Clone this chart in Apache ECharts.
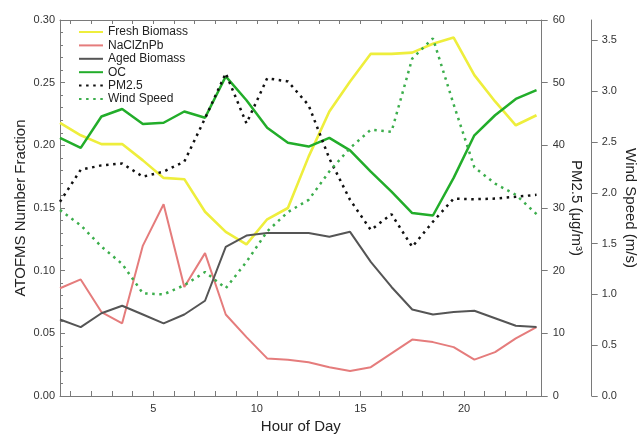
<!DOCTYPE html>
<html>
<head>
<meta charset="utf-8">
<script src="https://cdn.jsdelivr.net/npm/echarts@6/dist/echarts.min.js"></script>
<style>
  html, body { margin: 0; padding: 0; background: #fff; }
  #chart { width: 638px; height: 435px; }
</style>
</head>
<body>
<div id="chart"></div>
<script>
// Diurnal profile: hour of day (hourly bin centres)
const hours = [0.5, 1.5, 2.5, 3.5, 4.5, 5.5, 6.5, 7.5, 8.5, 9.5, 10.5, 11.5,
               12.5, 13.5, 14.5, 15.5, 16.5, 17.5, 18.5, 19.5, 20.5, 21.5, 22.5, 23.5];

// ATOFMS number fractions per particle class
const freshBiomass = [0.218, 0.208, 0.201, 0.201, 0.188, 0.174, 0.173, 0.147, 0.131, 0.121, 0.141, 0.150,
                      0.191, 0.227, 0.251, 0.273, 0.273, 0.274, 0.281, 0.286, 0.256, 0.235, 0.216, 0.224];
const naclZnPb     = [0.086, 0.093, 0.067, 0.058, 0.120, 0.153, 0.087, 0.114, 0.065, 0.047, 0.030, 0.029,
                      0.027, 0.023, 0.020, 0.023, 0.034, 0.045, 0.043, 0.039, 0.029, 0.035, 0.046, 0.055];
const agedBiomass  = [0.061, 0.055, 0.066, 0.072, 0.065, 0.058, 0.065, 0.076, 0.119, 0.128, 0.130, 0.130,
                      0.130, 0.127, 0.131, 0.107, 0.087, 0.069, 0.065, 0.067, 0.068, 0.062, 0.056, 0.055];
const oc           = [0.206, 0.198, 0.223, 0.229, 0.217, 0.218, 0.227, 0.222, 0.255, 0.236, 0.214, 0.202,
                      0.199, 0.206, 0.196, 0.179, 0.163, 0.146, 0.144, 0.174, 0.208, 0.224, 0.237, 0.244];

// PM2.5 mass concentration (ug/m3) and wind speed (m/s)
const pm25      = [31.0, 36.1, 36.8, 37.1, 35.0, 35.8, 37.4, 44.3, 51.5, 43.5, 50.7, 50.2,
                   46.4, 37.9, 31.3, 26.5, 29.0, 23.8, 27.8, 31.5, 31.4, 31.5, 31.8, 32.1];
const windSpeed = [1.83, 1.68, 1.47, 1.30, 1.01, 1.00, 1.09, 1.22, 1.06, 1.32, 1.62, 1.81,
                   1.93, 2.21, 2.44, 2.62, 2.60, 3.32, 3.52, 2.87, 2.25, 2.09, 1.98, 1.79];

// Axis ticks and labels
const hourTicks   = [1, 2, 3, 4, 5, 6, 7, 8, 9, 10, 11, 12, 13, 14, 15, 16, 17, 18, 19, 20, 21, 22, 23];
const hourLabels  = [5, 10, 15, 20];
const windTicks   = [0, 0.5, 1.0, 1.5, 2.0, 2.5, 3.0, 3.5];

const FONT = "'Liberation Sans', Arial, sans-serif";
const AXIS_GREY = '#7a7a7a';

function pairs(values) {
  return hours.map((h, i) => [h, values[i]]);
}

const chart = echarts.init(document.getElementById('chart'), null, { renderer: 'canvas', devicePixelRatio: 1 });

const dotted = [2.5, 4.6];

chart.setOption({
  animation: false,
  backgroundColor: '#ffffff',
  textStyle: { fontFamily: FONT },
  grid: { left: 60, right: 96.3, top: 20, bottom: 39, outerBoundsMode: 'none', containLabel: false },
  legend: {
    orient: 'vertical',
    left: 78,
    top: 26,
    padding: 0,
    itemWidth: 24,
    itemHeight: 12,
    itemGap: 1.4,
    itemStyle: { opacity: 0 },
    textStyle: { fontSize: 12, color: '#222', fontFamily: FONT },
    data: ['Fresh Biomass', 'NaClZnPb', 'Aged Biomass', 'OC', 'PM2.5', 'Wind Speed']
  },
  xAxis: [
    {
      type: 'value',
      position: 'bottom',
      min: 0.5,
      max: 23.75,
      name: 'Hour of Day',
      nameLocation: 'middle',
      nameGap: 23,
      nameMoveOverlap: false,
      nameTextStyle: { fontSize: 15, color: '#222', fontFamily: FONT },
      axisLine: { show: true, onZero: false, lineStyle: { color: AXIS_GREY, width: 1 } },
      axisTick: { show: true, inside: true, length: 5, customValues: hourTicks, lineStyle: { color: AXIS_GREY } },
      axisLabel: { show: true, customValues: hourLabels, margin: 7, fontSize: 11, color: '#333', fontFamily: FONT },
      splitLine: { show: false }
    },
    {
      type: 'value',
      position: 'top',
      min: 0.5,
      max: 23.75,
      axisLine: { show: true, onZero: false, lineStyle: { color: AXIS_GREY, width: 1 } },
      axisTick: { show: true, inside: true, length: 4, customValues: hourTicks, lineStyle: { color: AXIS_GREY } },
      axisLabel: { show: false },
      splitLine: { show: false }
    }
  ],
  yAxis: [
    {
      type: 'value',
      position: 'left',
      min: 0,
      max: 0.3,
      interval: 0.05,
      name: 'ATOFMS Number Fraction',
      nameLocation: 'middle',
      nameGap: 32,
      nameMoveOverlap: false,
      nameTextStyle: { fontSize: 15, color: '#222', fontFamily: FONT },
      axisLine: { show: true, onZero: false, lineStyle: { color: AXIS_GREY, width: 1 } },
      axisTick: { show: true, inside: true, length: 5, lineStyle: { color: AXIS_GREY } },
      minorTick: { show: true, splitNumber: 5, length: 3, lineStyle: { color: AXIS_GREY } },
      axisLabel: { margin: 5, fontSize: 11, color: '#333', fontFamily: FONT, formatter: v => v.toFixed(2) },
      splitLine: { show: false }
    },
    {
      type: 'value',
      position: 'right',
      offset: 0,
      min: 0,
      max: 60,
      interval: 10,
      name: 'PM2.5 (μg/m³)',
      nameLocation: 'middle',
      nameRotate: -90,
      nameGap: 27,
      nameMoveOverlap: false,
      nameTextStyle: { fontSize: 15, color: '#222', fontFamily: FONT },
      axisLine: { show: true, onZero: false, lineStyle: { color: AXIS_GREY, width: 1 } },
      axisTick: { show: true, inside: false, length: 6, lineStyle: { color: AXIS_GREY } },
      axisLabel: { margin: 11, fontSize: 11, color: '#333', fontFamily: FONT },
      splitLine: { show: false }
    },
    {
      type: 'value',
      position: 'right',
      offset: 50,
      min: 0,
      max: 3.7,
      name: 'Wind Speed (m/s)',
      nameLocation: 'middle',
      nameRotate: -90,
      nameGap: 31,
      nameMoveOverlap: false,
      nameTextStyle: { fontSize: 15, color: '#222', fontFamily: FONT },
      axisLine: { show: true, onZero: false, lineStyle: { color: AXIS_GREY, width: 1 } },
      axisTick: { show: true, inside: false, length: 6, customValues: windTicks, lineStyle: { color: AXIS_GREY } },
      axisLabel: { margin: 10, fontSize: 11, color: '#333', fontFamily: FONT, customValues: windTicks,
                   formatter: v => v.toFixed(1) },
      splitLine: { show: false }
    }
  ],
  series: [
    {
      name: 'Fresh Biomass', type: 'line', xAxisIndex: 0, yAxisIndex: 0, symbol: 'none',
      data: pairs(freshBiomass),
      itemStyle: { color: '#eeee3c' },
      lineStyle: { color: '#eeee3c', width: 2.6 }
    },
    {
      name: 'NaClZnPb', type: 'line', xAxisIndex: 0, yAxisIndex: 0, symbol: 'none',
      data: pairs(naclZnPb),
      itemStyle: { color: '#e57c7c' },
      lineStyle: { color: '#e57c7c', width: 2 }
    },
    {
      name: 'Aged Biomass', type: 'line', xAxisIndex: 0, yAxisIndex: 0, symbol: 'none',
      data: pairs(agedBiomass),
      itemStyle: { color: '#555555' },
      lineStyle: { color: '#555555', width: 2 }
    },
    {
      name: 'OC', type: 'line', xAxisIndex: 0, yAxisIndex: 0, symbol: 'none',
      data: pairs(oc),
      itemStyle: { color: '#22ad2a' },
      lineStyle: { color: '#22ad2a', width: 2.5 }
    },
    {
      name: 'PM2.5', type: 'line', xAxisIndex: 0, yAxisIndex: 1, symbol: 'none',
      data: pairs(pm25),
      itemStyle: { color: '#111111' },
      lineStyle: { color: '#111111', width: 2.5, type: dotted }
    },
    {
      name: 'Wind Speed', type: 'line', xAxisIndex: 0, yAxisIndex: 2, symbol: 'none',
      data: pairs(windSpeed),
      itemStyle: { color: '#3cae4c' },
      lineStyle: { color: '#3cae4c', width: 2.5, type: dotted }
    }
  ]
});
</script>
</body>
</html>
